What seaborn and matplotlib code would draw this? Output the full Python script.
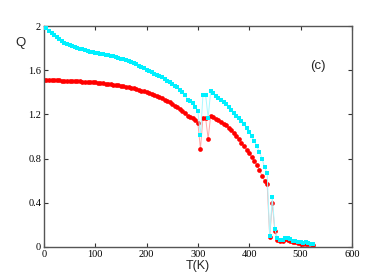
import numpy as np
import pandas as pd
import matplotlib
matplotlib.use('Agg')
import matplotlib.pyplot as plt
import seaborn as sns

# --- data ---
T = list(range(0, 530, 5))

Q_cyan = [
    2.00, 1.98, 1.96, 1.94, 1.92, 1.90, 1.88, 1.865, 1.85, 1.84,   # 0-45
    1.83, 1.82, 1.81, 1.80, 1.795, 1.79, 1.78, 1.775, 1.77, 1.765,  # 50-95
    1.76, 1.755, 1.75, 1.745, 1.74, 1.735, 1.73, 1.725, 1.72, 1.715,  # 100-145
    1.705, 1.70, 1.69, 1.685, 1.675, 1.665, 1.655, 1.64, 1.63, 1.62,  # 150-195
    1.605, 1.595, 1.585, 1.57, 1.56, 1.545, 1.535, 1.52, 1.505, 1.49,  # 200-245
    1.475, 1.46, 1.445, 1.425, 1.405, 1.38, 1.33, 1.32, 1.305, 1.27,  # 250-295
    1.23, 1.01, 1.38, 1.38, 1.17, 1.41, 1.39, 1.37, 1.35, 1.33,  # 300-345
    1.31, 1.29, 1.265, 1.24, 1.215, 1.19, 1.165, 1.14, 1.11, 1.08,  # 350-395
    1.04, 1.00, 0.96, 0.91, 0.86, 0.80, 0.72, 0.67, 0.10, 0.45,  # 400-445
    0.16, 0.08, 0.06, 0.06, 0.08, 0.08, 0.07, 0.055, 0.05, 0.04,  # 450-495
    0.04, 0.035, 0.04, 0.035, 0.03, 0.03,  # 500-525
]

Q_red = [
    1.51, 1.51, 1.51, 1.51, 1.51, 1.51, 1.508, 1.506, 1.505, 1.505,  # 0-45
    1.504, 1.503, 1.502, 1.50, 1.50, 1.498, 1.496, 1.495, 1.494, 1.492,  # 50-95
    1.49, 1.488, 1.485, 1.483, 1.48, 1.477, 1.474, 1.47, 1.467, 1.463,  # 100-145
    1.46, 1.455, 1.45, 1.445, 1.44, 1.435, 1.43, 1.42, 1.415, 1.41,  # 150-195
    1.40, 1.395, 1.385, 1.375, 1.365, 1.355, 1.345, 1.335, 1.32, 1.31,  # 200-245
    1.295, 1.28, 1.265, 1.245, 1.23, 1.21, 1.19, 1.18, 1.17, 1.15,  # 250-295
    1.12, 0.89, 1.17, 1.17, 0.98, 1.19, 1.175, 1.16, 1.15, 1.13,  # 300-345
    1.115, 1.10, 1.08, 1.055, 1.03, 1.00, 0.975, 0.945, 0.91, 0.88,  # 350-395
    0.85, 0.81, 0.78, 0.745, 0.70, 0.64, 0.60, 0.57, 0.09, 0.40,  # 400-445
    0.145, 0.06, 0.05, 0.05, 0.07, 0.065, 0.055, 0.045, 0.04, 0.035,  # 450-495
    0.03, 0.03, 0.03, 0.025, 0.025, 0.02,  # 500-525
]

x_ticks = [0, 100, 200, 300, 400, 500, 600]
y_ticks = [0, 0.4, 0.8, 1.2, 1.6, 2.0]
y_tick_labels = ['0', '0.4', '0.8', '1.2', '1.6', '2']

# --- style ---
sns.set_style('ticks')
plt.rcParams['font.family'] = ['Liberation Serif', 'DejaVu Serif']
plt.rcParams['xtick.direction'] = 'in'
plt.rcParams['ytick.direction'] = 'in'

fig = plt.figure(figsize=(3.82, 2.78), dpi=100)
ax = fig.add_axes([0.115, 0.112, 0.806, 0.794])

df = pd.DataFrame({'T': T, 'cyan': Q_cyan, 'red': Q_red})

sns.lineplot(data=df, x='T', y='red', ax=ax, sort=False, estimator=None,
             color='#ffa8a8', lw=0.7, marker='o', ms=3.4,
             mfc='#ff0000', mec='#ff0000', mew=0)
sns.lineplot(data=df, x='T', y='cyan', ax=ax, sort=False, estimator=None,
             color='#a8f8ff', lw=0.7, marker='s', ms=3.4,
             mfc='#00f0ff', mec='#00f0ff', mew=0, zorder=3)

ax.set_xlim(0, 600)
ax.set_ylim(0, 2)
ax.set_xticks(x_ticks)
ax.set_yticks(y_ticks)
ax.set_yticklabels(y_tick_labels)
ax.tick_params(axis='both', which='both', top=True, right=True,
               length=3, width=0.8, labelsize=7.5, colors='#333333',
               labelcolor='black', pad=2)
for s in ax.spines.values():
    s.set_linewidth(1.0)
    s.set_color('#555555')

sans = ['Liberation Sans', 'DejaVu Sans']
ax.set_xlabel('T(K)', family=sans, fontsize=9, labelpad=1)
ax.set_ylabel('')
fig.text(21 / 382, 1 - 43 / 278, 'Q', family=sans, fontsize=9.5,
         ha='center', va='center')
# "(c)" panel tag, placed in data coords
ax.text(534, 1.64, '(c)', family=sans, fontsize=9.5, ha='center', va='center')

fig.savefig('out.png', dpi=100)
